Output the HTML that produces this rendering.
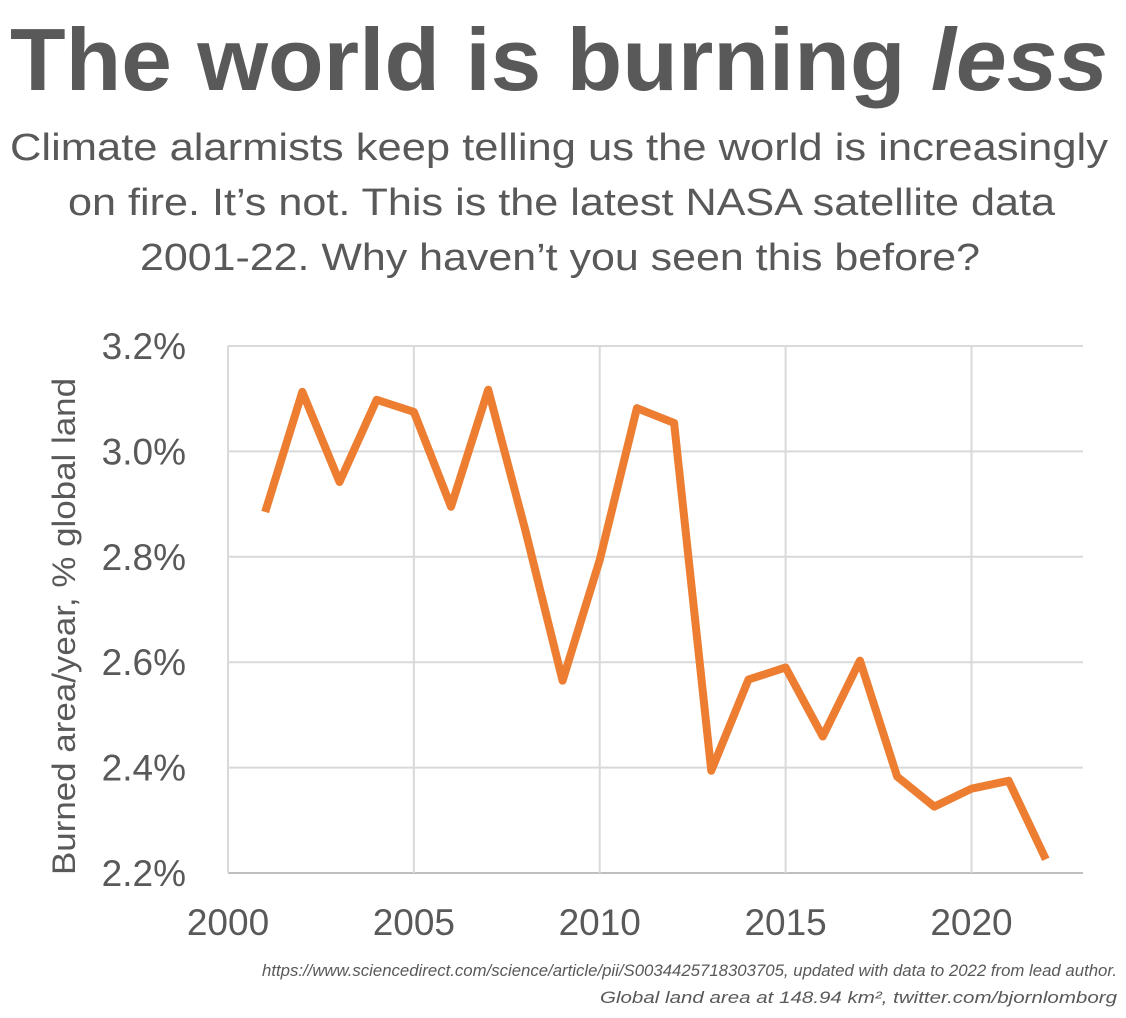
<!DOCTYPE html>
<html><head><meta charset="utf-8"><style>
html,body{margin:0;padding:0;background:#fff;}
body{width:1126px;height:1013px;overflow:hidden;font-family:"Liberation Sans",sans-serif;color:#595959;}
</style></head><body>
<svg id="chart" width="1126" height="1013" xmlns="http://www.w3.org/2000/svg">
<text x="10" y="90" textLength="1098" lengthAdjust="spacingAndGlyphs" font-size="88" font-weight="bold" fill="#595959">The world is burning <tspan font-style="italic">less</tspan></text>
<g font-size="38" fill="#595959">
<text x="10" y="160" textLength="1098" lengthAdjust="spacingAndGlyphs">Climate alarmists keep telling us the world is increasingly</text>
<text x="68" y="215" textLength="987" lengthAdjust="spacingAndGlyphs">on fire. It’s not. This is the latest NASA satellite data</text>
<text x="140" y="270" textLength="840" lengthAdjust="spacingAndGlyphs">2001-22. Why haven’t you seen this before?</text>
</g>
<g id="grid"></g>
<g id="yticks" font-size="37" fill="#595959" text-anchor="end"></g>
<g id="xticks" font-size="37" fill="#595959" text-anchor="middle"></g>
<text transform="translate(75,875) rotate(-90)" textLength="497" lengthAdjust="spacingAndGlyphs" font-size="32" fill="#595959">Burned area/year, % global land</text>
<polyline id="line" fill="none" stroke="#ED7D31" stroke-width="8" stroke-linejoin="round"/>
<g font-size="17" font-style="italic" fill="#595959">
<text x="262" y="976" textLength="855" lengthAdjust="spacingAndGlyphs">https://www.sciencedirect.com/science/article/pii/S0034425718303705, updated with data to 2022 from lead author.</text>
<text x="600" y="1003" textLength="517" lengthAdjust="spacingAndGlyphs">Global land area at 148.94 km², twitter.com/bjornlomborg</text>
</g>
</svg>
<script>
const years=[2001,2002,2003,2004,2005,2006,2007,2008,2009,2010,2011,2012,2013,2014,2015,2016,2017,2018,2019,2020,2021,2022];
const values=[2.885,3.113,2.942,3.098,3.075,2.895,3.117,2.85,2.565,2.794,3.082,3.054,2.394,2.567,2.59,2.459,2.603,2.383,2.326,2.36,2.375,2.226];
const yTicks=[2.2,2.4,2.6,2.8,3.0,3.2];
const xTicks=[2000,2005,2010,2015,2020];
const NS="http://www.w3.org/2000/svg";
const x0=228,x1=1083,y0=873,y1=346;
function xs(v){return x0+(v-2000)/(2023-2000)*(x1-x0);}
function ys(v){return y0-(v-2.2)/(3.2-2.2)*(y0-y1);}
const grid=document.getElementById('grid');
yTicks.forEach(t=>{
 const l=document.createElementNS(NS,'line');
 l.setAttribute('x1',x0);l.setAttribute('x2',x1);l.setAttribute('y1',ys(t));l.setAttribute('y2',ys(t));
 l.setAttribute('stroke',t===2.2?'#bfbfbf':'#d9d9d9');l.setAttribute('stroke-width','2');
 
 
 grid.appendChild(l);
 const tx=document.createElementNS(NS,'text');
 tx.setAttribute('x',186);tx.setAttribute('y',ys(t)+13);tx.textContent=t.toFixed(1)+'%';
 
 
 document.getElementById('yticks').appendChild(tx);
});
xTicks.forEach(t=>{
 const l=document.createElementNS(NS,'line');
 l.setAttribute('x1',xs(t));l.setAttribute('x2',xs(t));l.setAttribute('y1',y1);l.setAttribute('y2',y0);
 l.setAttribute('stroke','#d9d9d9');l.setAttribute('stroke-width','2');
 
 
 grid.appendChild(l);
 const tx=document.createElementNS(NS,'text');
 tx.setAttribute('x',xs(t));tx.setAttribute('y',935);tx.textContent=t;
 
 
 document.getElementById('xticks').appendChild(tx);
});
document.getElementById('line').setAttribute('points',years.map((y,i)=>xs(y)+','+ys(values[i])).join(' '));
</script>
</body></html>
